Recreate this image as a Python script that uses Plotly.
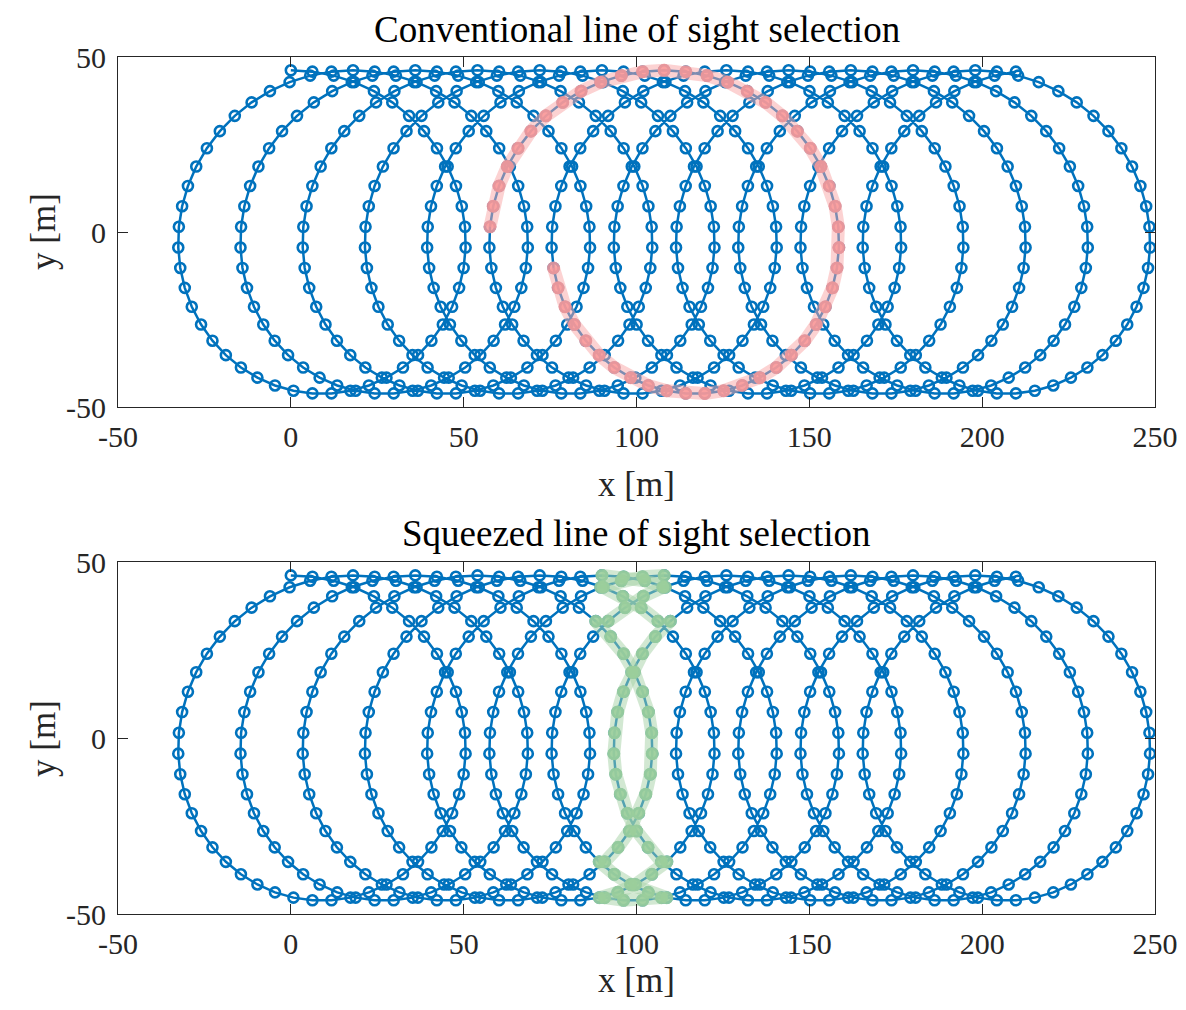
import plotly.graph_objects as go

# ---- data ----------------------------------------------------------------
# one loop of the looping trajectory (49 samples), x relative to the loop start
LOOP_X = [0.00, 6.25, 12.40, 18.36, 24.04, 29.35, 34.21, 38.54, 42.27, 45.37,
          47.77, 49.45, 50.39, 50.56, 49.99, 48.68, 46.66, 43.97, 40.67, 36.80,
          32.44, 27.67, 22.58, 17.24, 11.76, 6.24, 0.76, -4.58, -9.67, -14.44,
          -18.80, -22.67, -25.97, -28.66, -30.68, -31.99, -32.56, -32.39, -31.45,
          -29.77, -27.37, -24.28, -20.54, -16.21, -11.35, -6.04, -0.36, 5.60, 11.75]
LOOP_Y = [46.20, 45.82, 44.69, 42.82, 40.25, 37.03, 33.19, 28.81, 23.95, 18.70,
          13.15, 7.37, 1.48, -4.44, -10.28, -15.96, -21.37, -26.43, -31.06, -35.18,
          -38.72, -41.62, -43.85, -45.35, -46.11, -46.11, -45.35, -43.85, -41.62,
          -38.72, -35.18, -31.06, -26.43, -21.37, -15.96, -10.28, -4.44, 1.48, 7.37,
          13.15, 18.70, 23.95, 28.81, 33.19, 37.03, 40.25, 42.82, 44.69, 45.82]
# x position where each of the 12 loops starts
LOOP_OFFSETS = [0, 18, 36, 54, 72, 90, 108, 126, 144, 162, 180, 198]

# conventional selection: contiguous run of samples (sample indices)
RED_FIRST = 282
RED_LAST = 329
# squeezed selection: samples whose x lies inside this window
GREEN_XMIN = 88.0
GREEN_XMAX = 110.0

X_TICKS = [-50, 0, 50, 100, 150, 200, 250]
X_TICK_TEXT = ["-50", "0", "50", "100", "150", "200", "250"]
Y_TICKS = [-50, 0, 50]
Y_TICK_TEXT = ["-50", "0", "50"]

TITLES = ["Conventional line of sight selection", "Squeezed line of sight selection"]

# ---- build path ----------------------------------------------------------
px, py = [], []
for off in LOOP_OFFSETS:
    px += [v + off for v in LOOP_X]
    py += list(LOOP_Y)

red_x = px[RED_FIRST:RED_LAST + 1]
red_y = py[RED_FIRST:RED_LAST + 1]

green_x = [x if GREEN_XMIN <= x <= GREEN_XMAX else None for x in px]
green_y = [y if GREEN_XMIN <= x <= GREEN_XMAX else None for x, y in zip(px, py)]

BLUE = "#0072BD"
FONT = "Liberation Serif"

fig = go.Figure()
for ax in ["", "2"]:
    fig.add_trace(go.Scatter(
        x=px, y=py, mode="lines+markers", xaxis="x" + ax, yaxis="y" + ax,
        line=dict(color=BLUE, width=2.5),
        marker=dict(symbol="circle-open", size=10, color=BLUE, line=dict(width=2.6, color=BLUE)),
        showlegend=False, hoverinfo="skip"))

fig.add_trace(go.Scatter(
    x=red_x, y=red_y, mode="lines", xaxis="x", yaxis="y",
    line=dict(color="rgba(250,165,165,0.5)", width=13), showlegend=False))
fig.add_trace(go.Scatter(
    x=red_x, y=red_y, mode="markers", xaxis="x", yaxis="y",
    marker=dict(symbol="circle", size=13, color="rgba(249,152,152,0.85)"), showlegend=False))

fig.add_trace(go.Scatter(
    x=green_x, y=green_y, mode="lines", xaxis="x2", yaxis="y2",
    line=dict(color="rgba(165,210,165,0.5)", width=13), showlegend=False))
fig.add_trace(go.Scatter(
    x=green_x, y=green_y, mode="markers", xaxis="x2", yaxis="y2",
    marker=dict(symbol="circle", size=13, color="rgba(155,206,155,0.9)"), showlegend=False))

# page places the figure 8 px from the top-left corner, so work in page pixels minus 8
OFF = 8
W, H = 1186 - 2 * OFF, 1010 - 2 * OFF
L, R, T, B = 118 - OFF, 1155 - OFF, 57 - OFF, 914 - OFF   # outer plot-area box
IW, IH = R - L, B - T


def py2p(p):   # page pixel row -> paper y
    return (B - (p - OFF)) / IH


def px2p(p):   # page pixel column -> paper x
    return ((p - OFF) - L) / IW


axis_common = dict(showline=True, linecolor="#262626", linewidth=1, mirror="ticks",
                   ticks="inside", ticklen=10, tickwidth=1, tickcolor="#262626",
                   showgrid=False, zeroline=False, automargin=False,
                   tickfont=dict(family=FONT, size=30, color="#262626"))

fig.update_layout(
    width=W, height=H, plot_bgcolor="white", paper_bgcolor="white",
    margin=dict(l=L, r=W - R, t=T, b=H - B, autoexpand=False),
    xaxis=dict(domain=[0, 1], range=[-50, 250], tickvals=X_TICKS, ticktext=X_TICK_TEXT,
               anchor="y", ticklabelstandoff=3, **axis_common),
    yaxis=dict(domain=[py2p(407), py2p(57)], range=[-50, 50], tickvals=Y_TICKS,
               ticktext=Y_TICK_TEXT, anchor="x", ticklabelstandoff=5, **axis_common),
    xaxis2=dict(domain=[0, 1], range=[-50, 250], tickvals=X_TICKS, ticktext=X_TICK_TEXT,
                anchor="y2", ticklabelstandoff=3, **axis_common),
    yaxis2=dict(domain=[py2p(914), py2p(562)], range=[-50, 50], tickvals=Y_TICKS,
                ticktext=Y_TICK_TEXT, anchor="x2", ticklabelstandoff=5, **axis_common),
)

ann = []
for title, ty, xly, yly in [(TITLES[0], 29, 484, 232), (TITLES[1], 533, 981, 739)]:
    ann.append(dict(text=title, x=0.5, y=py2p(ty), xref="paper", yref="paper",
                    showarrow=False, xanchor="center", yanchor="middle",
                    font=dict(family=FONT, size=37, color="black")))
    ann.append(dict(text="x [m]", x=0.5, y=py2p(xly), xref="paper", yref="paper",
                    showarrow=False, xanchor="center", yanchor="middle",
                    font=dict(family=FONT, size=35, color="#262626")))
    ann.append(dict(text="y [m]", x=px2p(43), y=py2p(yly), xref="paper", yref="paper",
                    showarrow=False, xanchor="center", yanchor="middle", textangle=-90,
                    font=dict(family=FONT, size=35, color="#262626")))
fig.update_layout(annotations=ann)

fig.write_html("out.html")
